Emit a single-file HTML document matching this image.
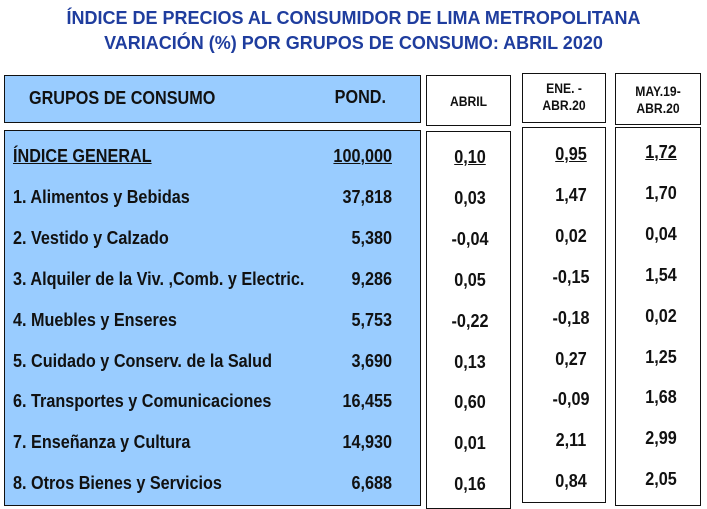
<!DOCTYPE html>
<html><head><meta charset="utf-8">
<style>
body{margin:0;width:707px;height:509px;background:#fff;position:relative;overflow:hidden;font-family:"Liberation Sans",Arial,sans-serif;}
.t{position:absolute;left:0;width:707px;text-align:center;color:#1f3d9e;font-weight:bold;font-size:18px;}
.box{position:absolute;border:1.5px solid #111;box-sizing:border-box;}
.blue{background:#99ccff;}
.tx{position:absolute;font-weight:bold;font-size:18px;color:#111;white-space:nowrap;transform:scaleX(0.9);}
.l{transform-origin:left center;}
.r{transform-origin:right center;text-align:right;}
.c{transform-origin:center center;text-align:center;width:80px;}
.h{font-size:13.5px;text-align:center;line-height:17px;}
u{text-decoration:underline;}
</style></head><body>
<div class="t" style="top:8px">ÍNDICE DE PRECIOS AL CONSUMIDOR DE LIMA METROPOLITANA</div>
<div class="t" style="top:33px">VARIACIÓN (%) POR GRUPOS DE CONSUMO: ABRIL 2020</div>

<div class="box blue" style="left:4px;top:75px;width:417px;height:48px"></div>
<div class="tx l" style="left:29px;top:88px">GRUPOS DE CONSUMO</div>
<div class="tx r" style="left:286px;width:100px;top:87px">POND.</div>
<div class="box" style="left:426px;top:75px;width:85px;height:51px"></div>
<div class="tx h" style="left:426px;width:85px;top:93px">ABRIL</div>
<div class="box" style="left:522px;top:73px;width:84px;height:50px"></div>
<div class="tx h" style="left:522px;width:84px;top:80px">ENE. -<br>ABR.20</div>
<div class="box" style="left:615px;top:73px;width:86px;height:52px"></div>
<div class="tx h" style="left:615px;width:86px;top:83px">MAY.19-<br>ABR.20</div>

<div class="box blue" style="left:4px;top:130px;width:417px;height:376px"></div>
<div class="box" style="left:426px;top:131px;width:85px;height:378px"></div>
<div class="box" style="left:522px;top:127px;width:84px;height:376px"></div>
<div class="box" style="left:615px;top:127px;width:86px;height:379px"></div>

<div id="rows"></div>
<script>
const groups=["<u>ÍNDICE GENERAL</u>","1. Alimentos y Bebidas","2. Vestido y Calzado","3. Alquiler de la Viv. ,Comb. y Electric.","4. Muebles y Enseres","5. Cuidado y Conserv. de la Salud","6. Transportes y Comunicaciones","7. Enseñanza y Cultura","8. Otros Bienes y Servicios"];
const pond=["100,000","37,818","5,380","9,286","5,753","3,690","16,455","14,930","6,688"];
const abril=["0,10","0,03","-0,04","0,05","-0,22","0,13","0,60","0,01","0,16"];
const ene=["0,95","1,47","0,02","-0,15","-0,18","0,27","-0,09","2,11","0,84"];
const may=["1,72","1,70","0,04","1,54","0,02","1,25","1,68","2,99","2,05"];
const rows=document.getElementById('rows');
function add(html,cls,style,name){const d=document.createElement('div');d.className='tx '+cls;d.style.cssText=style;d.innerHTML=html;


rows.appendChild(d);}
groups.forEach((g,i)=>{
 const y=146+i*40.9;
 const u=i===0;
 add(g,'l','left:13px;top:'+y+'px','group-label-'+i);
 add(u?'<u>'+pond[i]+'</u>':pond[i],'r','left:292px;width:100px;top:'+y+'px','pond-'+i);
 add(u?'<u>'+abril[i]+'</u>':abril[i],'c','left:430px;top:'+(y+1)+'px','abril-'+i);
 add(u?'<u>'+ene[i]+'</u>':ene[i],'c','left:531px;top:'+(y-2)+'px','ene-'+i);
 add(u?'<u>'+may[i]+'</u>':may[i],'c','left:621px;top:'+(y-4)+'px','may-'+i);
});
</script>
</body></html>
